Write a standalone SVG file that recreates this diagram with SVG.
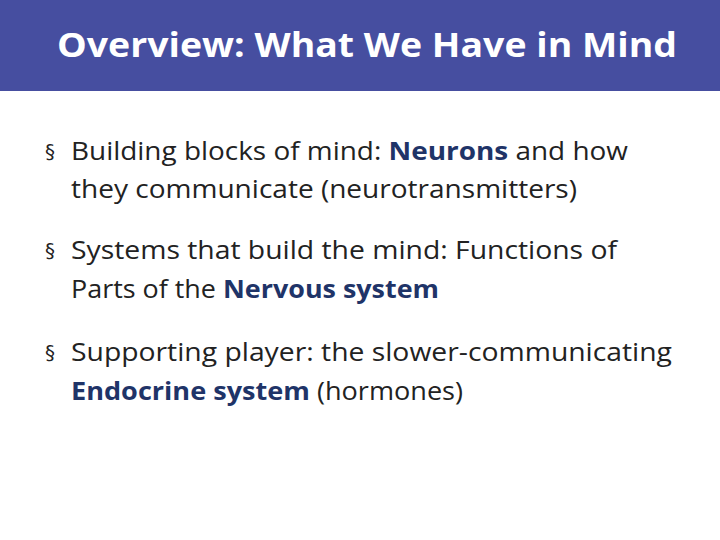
<svg xmlns="http://www.w3.org/2000/svg" width="720" height="540" viewBox="0 0 720 540">
<style>
.t{font-family:"Open Sans","Liberation Sans",sans-serif;font-size:25px;fill:#222}
.b{font-weight:bold;fill:#1f3468}
.bul{font-family:"DejaVu Sans",sans-serif;font-size:20px;fill:#222}
</style>
<rect width="720" height="540" fill="#fff"/>
<g id="header">
<rect x="0" y="0" width="720" height="91" fill="#464ea0"/>
<text x="57" y="57" textLength="620" lengthAdjust="spacingAndGlyphs" style="font-family:'Open Sans','Liberation Sans',sans-serif;font-size:34px;font-weight:bold;fill:#fff">Overview: What We Have in Mind</text>
</g>
<g id="bullet1">
<text class="bul" x="45" y="158">§</text>
<text class="t" x="71" y="160" textLength="557" lengthAdjust="spacingAndGlyphs">Building blocks of mind:  <tspan class="b">Neurons</tspan> and how</text>
<text class="t" x="71" y="198" textLength="506" lengthAdjust="spacingAndGlyphs">they communicate (neurotransmitters)</text>
</g>
<g id="bullet2">
<text class="bul" x="45" y="257">§</text>
<text class="t" x="71" y="259" textLength="546" lengthAdjust="spacingAndGlyphs">Systems that build the mind:  Functions of</text>
<text class="t" x="71" y="298" textLength="368" lengthAdjust="spacingAndGlyphs">Parts of the <tspan class="b">Nervous system</tspan></text>
</g>
<g id="bullet3">
<text class="bul" x="45" y="359">§</text>
<text class="t" x="71" y="361" textLength="601" lengthAdjust="spacingAndGlyphs">Supporting player:  the slower-communicating</text>
<text class="t" x="71" y="400" textLength="392" lengthAdjust="spacingAndGlyphs"><tspan class="b">Endocrine system</tspan> (hormones)</text>
</g>
</svg>
